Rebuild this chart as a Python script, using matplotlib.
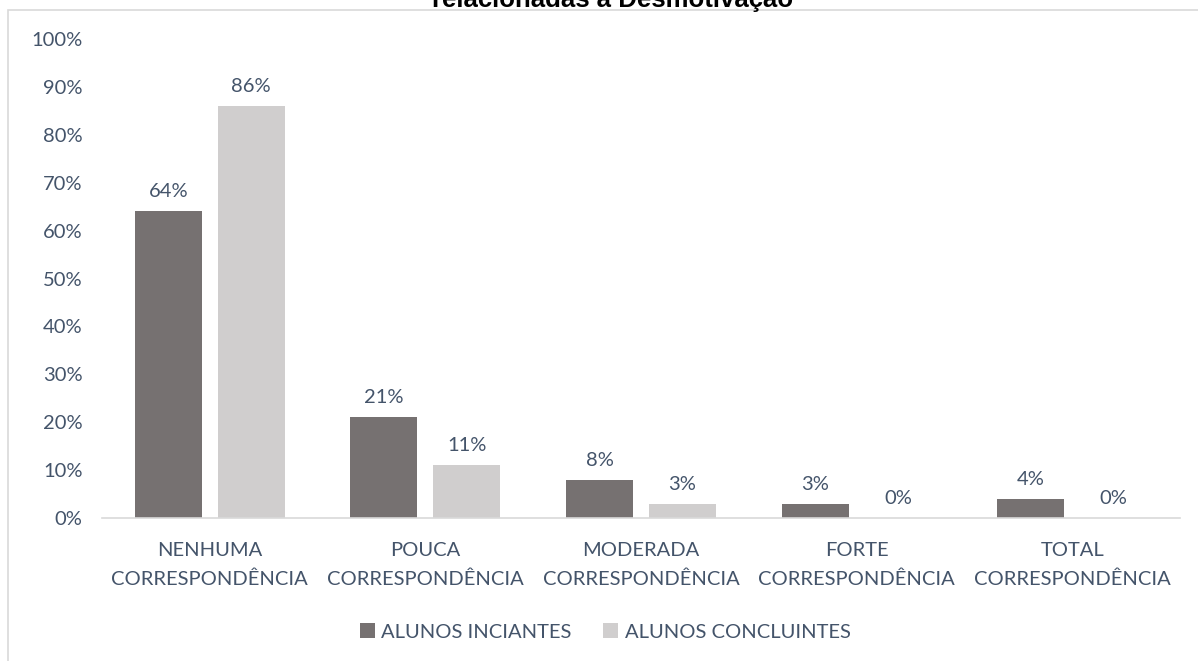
#!/usr/bin/env python3
"""Bar chart: correspondence levels, beginning vs. finishing students."""

import matplotlib
matplotlib.use("Agg")
import matplotlib.pyplot as plt
import numpy as np
from matplotlib.patches import Rectangle

categories = [
    "NENHUMA\nCORRESPONDÊNCIA",
    "POUCA\nCORRESPONDÊNCIA",
    "MODERADA\nCORRESPONDÊNCIA",
    "FORTE\nCORRESPONDÊNCIA",
    "TOTAL\nCORRESPONDÊNCIA",
]
iniciantes = [64, 21, 8, 3, 4]
concluintes = [86, 11, 3, 0, 0]
series_names = ["ALUNOS INCIANTES", "ALUNOS CONCLUINTES"]
yticks = list(range(0, 101, 10))
title = "relacionadas à Desmotivação"

TXT = "#44546A"
DARK = "#767171"
LIGHT = "#D0CECE"
GRID = "#D9D9D9"
FS = 14.5

plt.rcParams["font.family"] = ["Lato", "DejaVu Sans"]

W, H = 1198, 661
fig = plt.figure(figsize=(W / 100, H / 100), dpi=100)

# chart area border (clipped by the image edges, like the original)
fig.patches.append(Rectangle((8 / W, -0.1), 1.2, 1.1 - 10 / H,
                             transform=fig.transFigure, fill=False,
                             edgecolor=GRID, linewidth=1.2))
fig.text(613 / W, 1 - 7 / H, title, ha="center", va="baseline",
         fontsize=18.5, fontweight="bold", family="Liberation Sans", color="black")

ax = fig.add_axes([102 / W, 1 - 518 / H, (1180 - 102) / W, (518 - 39) / H])

x = np.arange(len(categories))
bw = 0.311
off = 0.1925
b1 = ax.bar(x - off, iniciantes, bw, color=DARK, label=series_names[0])
b2 = ax.bar(x + off, concluintes, bw, color=LIGHT, label=series_names[1])

for bars, vals in ((b1, iniciantes), (b2, concluintes)):
    for rect, v in zip(bars, vals):
        ax.annotate(f"{v}%", (rect.get_x() + rect.get_width() / 2, v),
                    xytext=(0, 8), textcoords="offset points",
                    ha="center", va="bottom", fontsize=FS, color=TXT)

ax.set_xlim(-0.5, len(categories) - 0.5)
ax.set_ylim(0, 100)
ax.set_yticks(yticks)
ax.set_yticklabels([f"{t}%" for t in yticks])
ax.set_xticks(x)
ax.set_xticklabels(categories, linespacing=1.85)
ax.tick_params(axis="both", length=0, labelsize=FS, labelcolor=TXT)
ax.tick_params(axis="y", pad=14)
ax.tick_params(axis="x", pad=17)

for side in ("top", "right", "left"):
    ax.spines[side].set_visible(False)
ax.spines["bottom"].set_color(GRID)
ax.spines["bottom"].set_linewidth(1.2)

fig.legend(loc="center", bbox_to_anchor=(605 / W, 1 - 632 / H), ncol=2,
           frameon=False, fontsize=FS, labelcolor=TXT, handlelength=0.75,
           handleheight=0.75, handletextpad=0.3, columnspacing=1.6)

fig.savefig("out.png", dpi=100)
